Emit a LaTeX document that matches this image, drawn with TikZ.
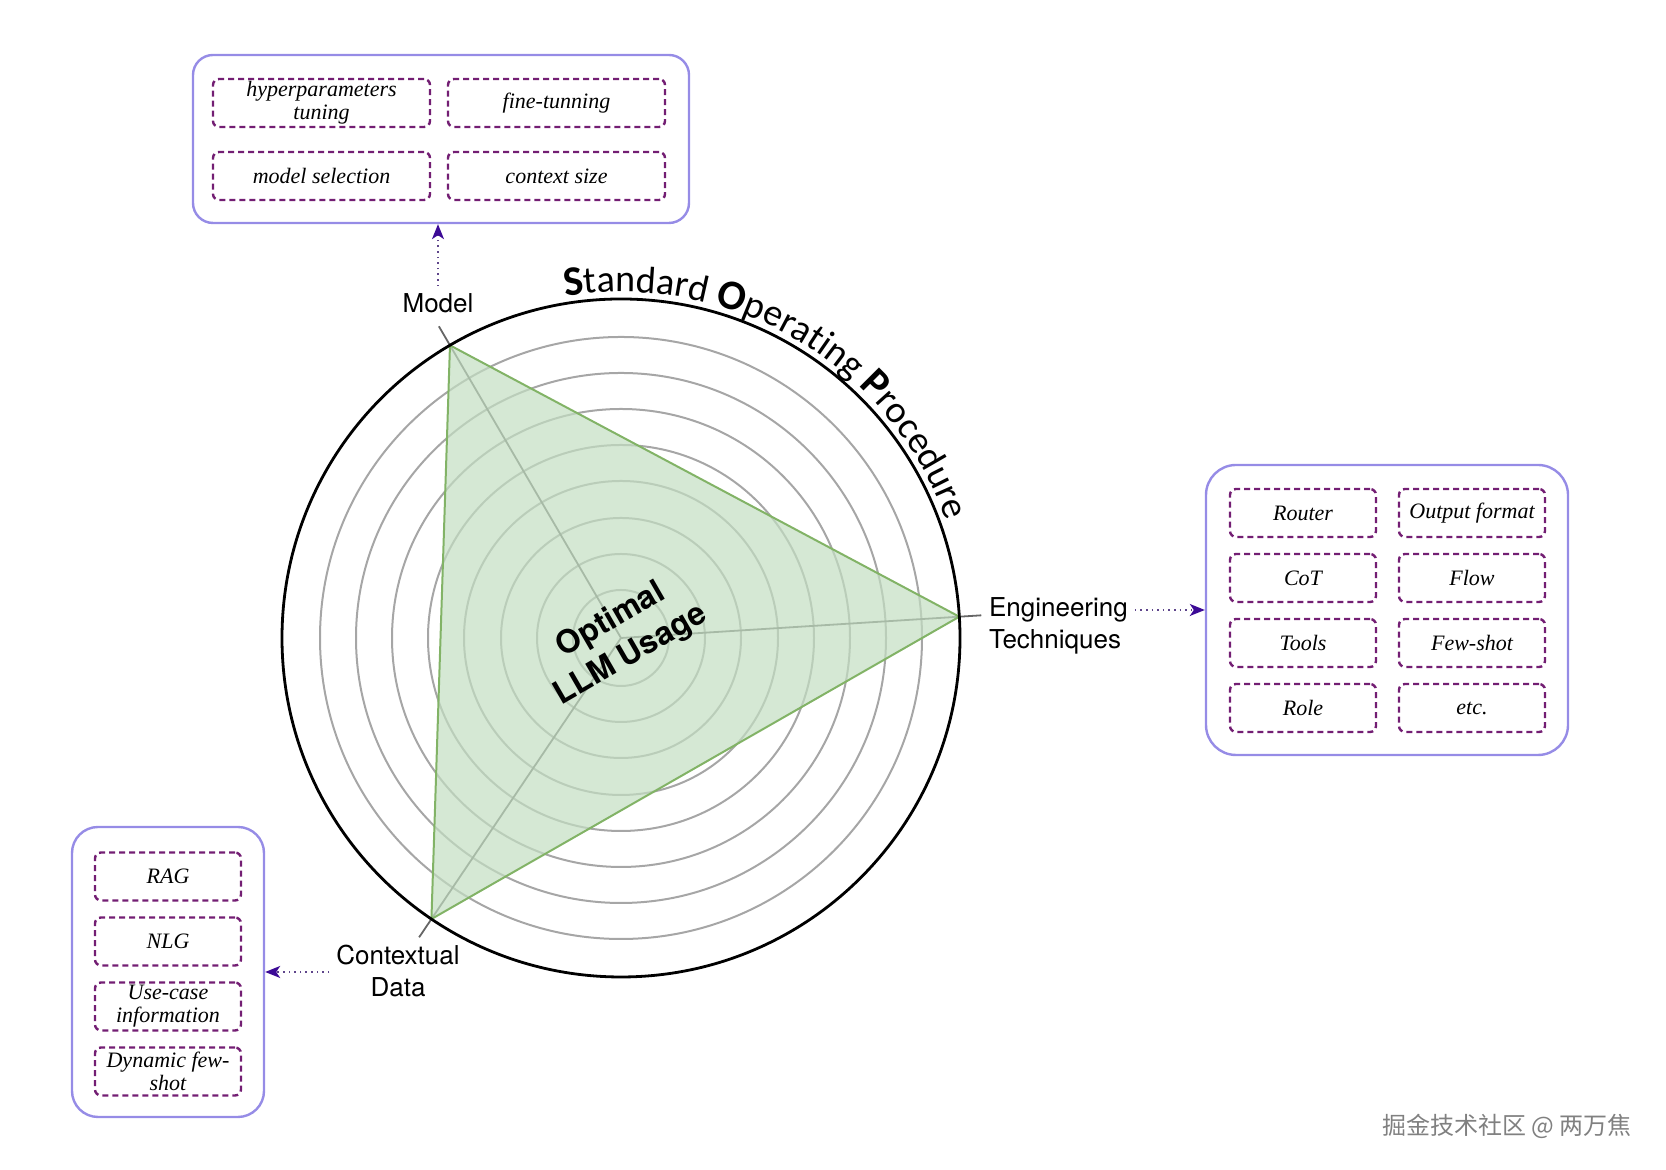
\documentclass[tikz,border=0pt]{standalone}
\usepackage{fontspec}
\usepackage{tikz}
\usetikzlibrary{positioning}
\usetikzlibrary{arrows.meta,decorations.text}
\newfontfamily\axisfont{TeX Gyre Heros}
\newfontfamily\sopfont{Carlito}
\newfontfamily\itemfont{Liberation Serif}
\newfontfamily\cjk{Noto Sans CJK SC}
\newcommand\sopbig{\sopfont\bfseries\fontsize{21}{21}\selectfont}
\newcommand\sopsmall{\sopfont\fontsize{19}{19}\selectfont}
\definecolor{boxline}{RGB}{150,140,230}
\definecolor{itemline}{RGB}{115,30,115}
\definecolor{arrowhead}{RGB}{60,10,150}
\definecolor{areafill}{RGB}{195,222,194}
\definecolor{arealine}{RGB}{130,179,102}

\begin{document}
\begin{tikzpicture}[%
    x=0.5pt, y=0.5pt,
    >={Stealth[length=7.5pt,width=6pt,inset=2pt,color=arrowhead]},
    node distance=7.3pt,
    group/.style={%
      rectangle,
      rounded corners=#1,
      draw=boxline,
      line width=1.2pt
    },
    group/.default=10pt,
    item/.style={%
      rectangle,
      rounded corners=3pt,
      minimum width=73pt,
      minimum height=24pt,
      inner sep=0.5pt,
      align=center,
      draw=itemline,
      line width=1.2pt,
      dash pattern=on 3pt off 2pt,
      font=\itemfont\itshape\fontsize{11}{11.5}\selectfont
    },
    wide/.style={item, minimum width=108.5pt},
    axis/.style={align=center, font=\axisfont\fontsize{13}{16}\selectfont},
    ring/.style={draw=black!35, line width=1pt},
    spoke/.style={draw=black!60, line width=0.9pt},
    link/.style={->, dotted, draw=arrowhead!50!gray, line width=0.8pt}
  ]
  \useasboundingbox (0,0) rectangle (1666,1170);
  % Chart: 
    \coordinate (c) at (621,532);
    \foreach \r in {48,84,120,157,193,229,265,301}
      \draw[ring] (c) circle[radius=\r];
    \foreach \a in {120.3,3.6,236}
      \draw[spoke] (c) -- ++(\a:361);
    \path (c) ++(120.3:339) coordinate (vmodel)
          (c) ++(3.6:339)   coordinate (veng)
          (c) ++(236:339)   coordinate (vctx)
          (c) ++(99.3:346)  coordinate (sopstart);
    \fill[areafill, fill opacity=0.7] (vmodel) -- (veng) -- (vctx) -- cycle;
    \draw[arealine, line width=1pt, line join=round] (vmodel) -- (veng) -- (vctx) -- cycle;
    \draw[black, line width=1.4pt] (c) circle[radius=339];
    \path[decorate, decoration={text along path, text align=left,
      text={|\sopbig|S|\sopsmall|tandard |\sopbig|O|\sopsmall|perating |\sopbig|P|\sopsmall|rocedure}}]
      (sopstart) arc[start angle=99.3, end angle=12, radius=346];
    \node[rotate=30, align=center, font=\axisfont\bfseries\fontsize{16}{20}\selectfont] (usage) at (c) {Optimal\\LLM Usage};
  % Nodes: 
    \node[axis] (lblmodel) at (438,867) {Model};
    \node[axis, anchor=west, align=left] (lbleng) at (982,544) {Engineering\\Techniques};
    \node[axis] (lblctx) at (398,199) {Contextual\\Data};

    \node[group=10pt, minimum width=248pt, minimum height=84pt] (boxmodel) at (441,1031) {};
    \node[wide] (hyper) at (321.5,1067) {hyperparameters\\tuning};
    \node[wide] (finetune) [right=7.8pt of hyper] {fine-tunning};
    \node[wide] (modelsel) [below=11.3pt of hyper] {model selection};
    \node[wide] (ctxsize) [right=7.8pt of modelsel] {context size};

    \node[group=15pt, minimum width=181pt, minimum height=145pt] (boxeng) at (1387,560) {};
    \node[item] (router) at (1303,657) {Router};
    \node[item] (output) [right=10.3pt of router] {Output format};
    \node[item] (cot) [below=of router] {CoT};
    \node[item] (flow) [below=of output] {Flow};
    \node[item] (tools) [below=of cot] {Tools};
    \node[item] (fewshot) [below=of flow] {Few-shot};
    \node[item] (role) [below=of tools] {Role};
    \node[item] (etc) [below=of fewshot] {etc.};

    \node[group=13pt, minimum width=96pt, minimum height=145pt] (boxctx) at (168,198) {};
    \node[item] (rag) at (168,293.5) {RAG};
    \node[item] (nlg) [below=of rag] {NLG};
    \node[item] (usecase) [below=of nlg] {Use-case\\information};
    \node[item] (dynamic) [below=of usecase] {Dynamic few-\\shot};

    \node[font=\cjk\fontsize{12}{12}\selectfont, text=black!50] (mark) at (1507,44) {掘金技术社区 @ 两万焦};
  % Paths: 
    \path (lblmodel.north) edge[link] (lblmodel.north |- boxmodel.south)
          (lbleng.east |- boxeng.west) edge[link] (boxeng.west)
          (lblctx.west |- boxctx.east) edge[link] (boxctx.east);
\end{tikzpicture}
\end{document}
